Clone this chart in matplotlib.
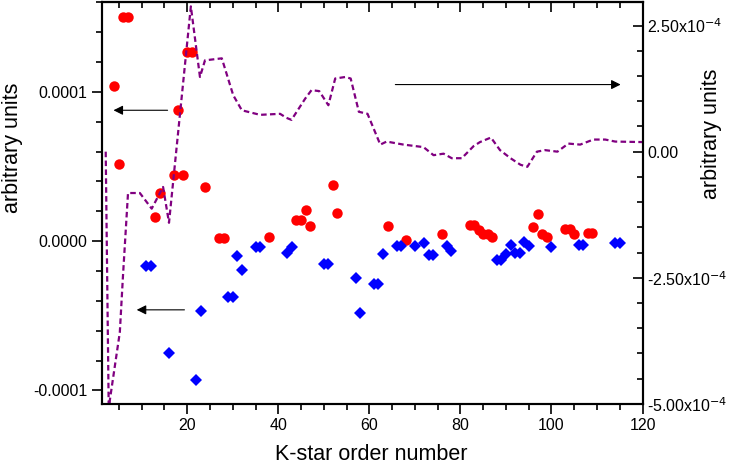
import matplotlib
matplotlib.use("Agg")
import matplotlib.pyplot as plt
from matplotlib.ticker import MultipleLocator, FuncFormatter

plt.rcParams['font.family'] = ['Liberation Sans', 'DejaVu Sans']
plt.rcParams['axes.unicode_minus'] = False

# red circles (left axis)
red_x = [4, 5, 6, 7, 13, 14, 17, 18, 19, 20, 21, 24, 27, 28, 38,
         44, 45, 46, 47, 52, 53, 64, 68, 76, 82, 83, 84, 85, 86, 87,
         96, 97, 98, 99, 103, 104, 105, 108, 109]
red_y = [1.04e-4, 0.52e-4, 1.50e-4, 1.50e-4, 0.161e-4, 0.322e-4, 0.446e-4, 0.88e-4,
         0.446e-4, 1.264e-4, 1.264e-4, 0.362e-4, 0.02e-4, 0.02e-4, 0.027e-4,
         0.139e-4, 0.139e-4, 0.21e-4, 0.105e-4, 0.379e-4, 0.188e-4, 0.105e-4,
         0.011e-4, 0.05e-4, 0.11e-4, 0.11e-4, 0.072e-4, 0.05e-4, 0.05e-4, 0.027e-4,
         0.094e-4, 0.184e-4, 0.05e-4, 0.027e-4, 0.083e-4, 0.083e-4, 0.045e-4,
         0.054e-4, 0.054e-4]

# blue diamonds (left axis)
blue_x = [11, 12, 16, 22, 23, 29, 30, 31, 32, 35, 36, 42, 43, 50, 51,
          57, 58, 61, 62, 63, 66, 67, 70, 72, 73, 74, 77, 78, 88, 89,
          90, 91, 92, 93, 94, 95, 100, 106, 107, 114, 115]
blue_y = [-0.163e-4, -0.163e-4, -0.749e-4, -0.93e-4, -0.465e-4, -0.376e-4, -0.376e-4,
          -0.096e-4, -0.19e-4, -0.04e-4, -0.04e-4, -0.08e-4, -0.04e-4, -0.152e-4,
          -0.152e-4, -0.244e-4, -0.483e-4, -0.29e-4, -0.29e-4, -0.089e-4, -0.029e-4,
          -0.029e-4, -0.031e-4, -0.013e-4, -0.091e-4, -0.091e-4, -0.029e-4, -0.067e-4,
          -0.125e-4, -0.125e-4, -0.085e-4, -0.024e-4, -0.08e-4, -0.08e-4, -0.007e-4,
          -0.029e-4, -0.036e-4, -0.024e-4, -0.024e-4, -0.013e-4, -0.013e-4]

# purple dashed curve (right axis)
line_x = [2.1, 2.8, 3.0, 5.2, 5.9, 7.0, 9.6, 12.2, 14.7, 16.0, 20.8, 22.8, 23.9,
          27.6, 30.1, 32.0, 36.0, 40.4, 41.8, 42.9, 45.9, 47.3, 49.0, 51.0, 52.5,
          54.7, 55.9, 57.7, 59.6, 62.4, 63.8, 67.5, 71.9, 74.1, 76.3, 78.1, 80.3,
          82.9, 84.3, 86.7, 88.7, 91.0, 93.2, 94.7, 96.8, 98.6, 101.3, 103.7,
          106.3, 109.2, 111.8, 114.0, 119.9]
line_y = [0.0, -5.4e-4, -4.93e-4, -3.58e-4, -2.45e-4, -0.82e-4, -0.82e-4, -1.13e-4,
          -0.70e-4, -1.41e-4, 2.88e-4, 1.48e-4, 1.81e-4, 1.85e-4, 1.12e-4, 0.82e-4,
          0.73e-4, 0.75e-4, 0.67e-4, 0.63e-4, 1.05e-4, 1.22e-4, 1.20e-4, 0.92e-4,
          1.45e-4, 1.48e-4, 1.45e-4, 0.79e-4, 0.75e-4, 0.14e-4, 0.20e-4, 0.14e-4,
          0.09e-4, -0.07e-4, -0.04e-4, -0.13e-4, -0.13e-4, 0.11e-4, 0.19e-4, 0.28e-4,
          0.03e-4, -0.13e-4, -0.26e-4, -0.30e-4, 0.0, 0.03e-4, 0.0, 0.16e-4, 0.14e-4,
          0.24e-4, 0.24e-4, 0.20e-4, 0.19e-4]


def left_fmt(v, pos):
    return "%.4f" % v if abs(v) > 1e-12 else "0.0000"


def right_fmt(v, pos):
    if abs(v) < 1e-12:
        return "0.00"
    return r"%.2fx10$^{-4}$" % (v / 1e-4)


fig = plt.figure(figsize=(7.31, 4.68), dpi=100)
ax = fig.add_axes([0.139, 0.137, 0.740, 0.858])

ax.plot(red_x, red_y, 'o', color='red', markersize=7.5, markeredgewidth=0)
ax.plot(blue_x, blue_y, 'D', color='blue', markersize=6.2, markeredgewidth=0)

ax.set_xlim(1.2, 120)
ax.set_ylim(-1.09e-4, 1.60e-4)
ax.xaxis.set_major_locator(MultipleLocator(20))
ax.xaxis.set_minor_locator(MultipleLocator(5))
ax.yaxis.set_major_locator(MultipleLocator(1e-4))
ax.yaxis.set_minor_locator(MultipleLocator(2e-5))
ax.yaxis.set_major_formatter(FuncFormatter(left_fmt))
ax.tick_params(which='major', direction='out', length=7, width=1.2, labelsize=11.5)
ax.tick_params(which='minor', direction='out', length=4, width=1.2)
ax.set_xticks([20, 40, 60, 80, 100, 120])
for s in ax.spines.values():
    s.set_linewidth(1.5)

# top axis with inward ticks, no labels
top = ax.secondary_xaxis('top')
top.xaxis.set_major_locator(MultipleLocator(20))
top.xaxis.set_minor_locator(MultipleLocator(5))
top.tick_params(which='major', direction='in', length=7, width=1.2, labeltop=False)
top.tick_params(which='minor', direction='in', length=4, width=1.2)
top.spines['top'].set_linewidth(1.5)

ax2 = ax.twinx()
ax2.plot(line_x, line_y, '--', color='#800080', linewidth=1.6, dashes=(2.5, 1.5))
ax2.set_ylim(-5.0e-4, 2.96e-4)
ax2.yaxis.set_major_locator(MultipleLocator(2.5e-4))
ax2.yaxis.set_minor_locator(MultipleLocator(5e-5))
ax2.yaxis.set_major_formatter(FuncFormatter(right_fmt))
ax2.tick_params(which='major', direction='in', length=7, width=1.2, labelsize=11.5)
ax2.tick_params(which='minor', direction='in', length=4, width=1.2)
for s in ax2.spines.values():
    s.set_linewidth(1.5)

# axis titles placed as in the reference
fig.text(371 / 731, 1 - 455 / 468, "K-star order number", fontsize=15.5,
         ha='center', va='center')
fig.text(13 / 731, 1 - 147.5 / 468, "arbitrary units", fontsize=15.5,
         rotation=90, ha='center', va='center')
fig.text(711 / 731, 1 - 133.5 / 468, "arbitrary units", fontsize=15.5,
         rotation=90, ha='center', va='center')

arrow = dict(arrowstyle='-|>', color='black', lw=0.8, mutation_scale=14)
ax.annotate("", xy=(3.2, 0.877e-4), xytext=(16.3, 0.877e-4), arrowprops=arrow)
ax.annotate("", xy=(8.3, -0.46e-4), xytext=(20.0, -0.46e-4), arrowprops=arrow)
ax2.annotate("", xy=(115.8, 1.33e-4), xytext=(65.1, 1.33e-4), arrowprops=arrow)

fig.savefig("out.png", dpi=100)
